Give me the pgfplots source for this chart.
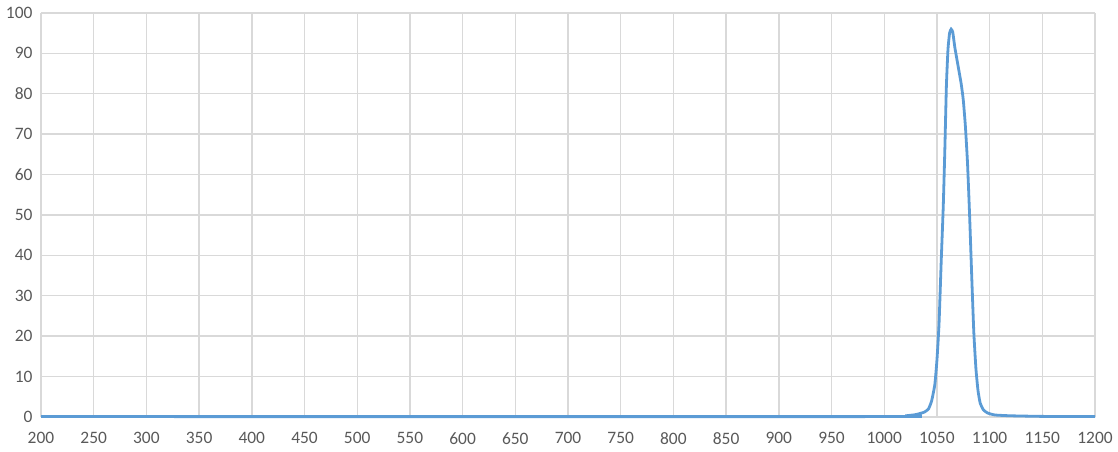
\documentclass[border=0pt]{standalone}
\usepackage{pgfplots}
\pgfplotsset{compat=1.18}
\usepackage{fontspec}
\setmainfont{Carlito}
\definecolor{linec}{HTML}{5B9BD5}
\definecolor{gridc}{HTML}{D9D9D9}
\definecolor{textc}{HTML}{595959}
\begin{document}
\begin{tikzpicture}[x=1bp,y=1bp]
\useasboundingbox (0,0) rectangle (1118,452);
\begin{axis}[
  at={(41bp,35bp)}, anchor=south west,
  scale only axis, width=1054bp, height=404bp,
  xmin=200, xmax=1200, ymin=0, ymax=100,
  xtick={200,250,...,1200}, ytick={0,10,...,100},
  grid=major,
  major grid style={gridc, line width=1.4bp},
  axis line style={gridc, line width=1.4bp},
  axis x line*=bottom, axis y line*=left,
  tick style={draw=none},
  ticklabel style={font=\fontsize{17.5}{20}\selectfont, text=textc},
  /pgf/number format/assume math mode=true,
  /pgf/number format/1000 sep={},
  xticklabel style={yshift=-12bp},
  yticklabel style={xshift=-5bp},
  clip=false,
]
\addplot[linec, line width=2.8bp, smooth, tension=0.3] table {
x y
200 0.1
1000 0.1
1020 0.3
1030 0.6
1038 1.2
1042 2
1045 4
1048 8
1050 14
1052 23
1054 38
1056 52
1057.5 66
1059 82
1060.5 91
1062 95
1063.5 96
1065 95.3
1067 91.5
1070 87
1073 82.5
1075 78.5
1077 72
1079 63
1081 50
1083 35
1085 21
1087 12
1089 6.5
1091 3.5
1094 1.8
1098 1
1105 0.5
1120 0.3
1150 0.15
1200 0.1
};
\end{axis}
\end{tikzpicture}
\end{document}
